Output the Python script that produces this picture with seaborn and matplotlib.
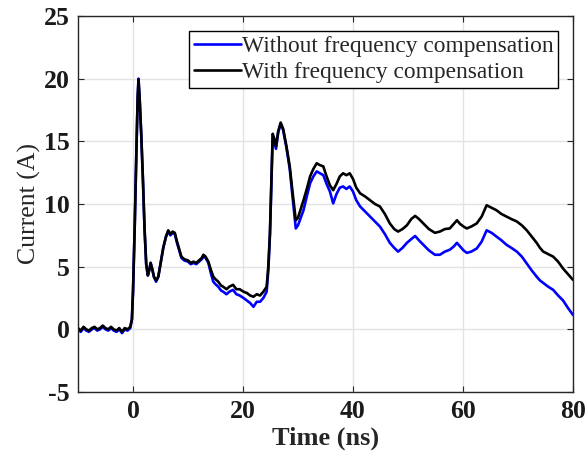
import numpy as np
import pandas as pd
import matplotlib
matplotlib.use("Agg")
import matplotlib.pyplot as plt
import seaborn as sns

time_ns = [-10, -9.5, -9, -8.5, -8, -7.5, -7, -6.5, -6, -5.5, -5, -4.5, -4, -3.5, -3, -2.5, -2, -1.5, -1, -0.5,
           -0.2, 0.0, 0.3, 0.6, 0.85, 1.0, 1.2, 1.5, 1.8, 2.1, 2.4, 2.7, 3.0, 3.2, 3.5, 3.8, 4.2, 4.6, 5.0, 5.5,
           6.0, 6.4, 6.8, 7.2, 7.6, 8.0, 8.4, 8.8, 9.3, 10.0, 10.5, 11.0, 11.5, 12.0, 12.5, 12.8, 13.2, 13.7, 14.2, 14.6,
           15.0, 15.5, 16.0, 16.4, 17.0, 17.5, 18.2, 18.8, 19.4, 20.1, 20.7, 21.3, 21.9, 22.5, 23.1, 23.7, 24.3, 24.6, 24.9, 25.15,
           25.4, 25.7, 26.0, 26.4, 26.85, 27.3, 27.9, 28.5, 29.0, 29.6, 30.0, 30.5, 31.0, 31.6, 32.2, 32.8, 33.4, 34.0, 34.6, 35.2,
           35.8, 36.4, 37.0, 37.6, 38.2, 38.8, 39.4, 40.0, 40.6, 41.3, 42.2, 43.1, 44.0, 44.9, 45.8, 46.7, 47.5, 48.2, 49.0, 49.8,
           50.6, 51.3, 52.0, 52.8, 53.8, 54.9, 55.8, 56.7, 57.6, 58.3, 58.9, 59.5, 60.1, 60.7, 61.5, 62.5, 63.4, 64.3, 65.2, 66.1,
           67.0, 67.9, 68.8, 69.8, 70.7, 71.6, 72.5, 73.4, 74.0, 74.6, 75.5, 76.4, 77.3, 78.2, 79.1, 80.0]

with_comp = [0.1, -0.1, 0.2, 0.0, -0.1, 0.1, 0.2, 0.0, 0.1, 0.3, 0.1, 0.0, 0.2, 0.0, -0.1, 0.1, -0.2, 0.1, 0.0, 0.2,
             0.8, 3.0, 8.0, 14.0, 18.5, 19.9, 18.5, 15.5, 12.0, 8.0, 5.2, 4.3, 4.8, 5.3, 4.8, 4.2, 3.9, 4.2, 5.2, 6.5,
             7.4, 7.9, 7.6, 7.8, 7.7, 7.0, 6.4, 5.8, 5.6, 5.5, 5.3, 5.4, 5.3, 5.5, 5.7, 5.95, 5.8, 5.4, 4.7, 4.2,
             4.0, 3.8, 3.5, 3.4, 3.2, 3.4, 3.55, 3.2, 3.2, 3.0, 2.9, 2.7, 2.6, 2.8, 2.7, 3.0, 3.4, 5.0, 7.7, 11.5,
             15.6, 15.2, 14.6, 15.8, 16.5, 16.0, 14.6, 13.0, 11.0, 8.7, 8.9, 9.6, 10.3, 11.2, 12.2, 12.8, 13.25, 13.1, 13.0, 12.2,
             11.5, 11.1, 11.6, 12.2, 12.45, 12.3, 12.45, 12.0, 11.3, 10.85, 10.6, 10.3, 10.0, 9.8, 9.2, 8.45, 8.0, 7.8, 8.0, 8.3,
             8.8, 9.05, 8.8, 8.45, 8.0, 7.7, 7.8, 8.0, 8.05, 8.4, 8.7, 8.4, 8.2, 8.05, 8.2, 8.45, 9.0, 9.9, 9.7, 9.5,
             9.2, 9.0, 8.8, 8.6, 8.3, 7.9, 7.4, 6.9, 6.5, 6.2, 6.0, 5.8, 5.4, 4.85, 4.4, 3.95]

without_comp = [0.0, -0.2, 0.1, -0.1, -0.2, 0.0, 0.1, -0.1, 0.0, 0.2, 0.0, -0.1, 0.1, -0.1, -0.2, 0.0, -0.3, 0.0, -0.1, 0.1,
                0.8, 3.0, 8.0, 14.0, 18.6, 20.0, 18.5, 15.5, 12.0, 8.0, 5.2, 4.3, 4.8, 5.3, 4.8, 4.2, 3.8, 4.2, 5.2, 6.5,
                7.4, 7.8, 7.5, 7.7, 7.6, 6.9, 6.3, 5.7, 5.5, 5.4, 5.2, 5.3, 5.2, 5.4, 5.6, 5.8, 5.7, 5.3, 4.4, 3.8,
                3.6, 3.4, 3.1, 3.0, 2.8, 3.0, 3.15, 2.8, 2.7, 2.5, 2.3, 2.1, 1.8, 2.2, 2.2, 2.5, 3.0, 4.7, 7.5, 11.3,
                15.4, 14.9, 14.4, 15.7, 16.4, 15.9, 14.5, 12.8, 10.6, 8.05, 8.3, 8.9, 9.5, 10.6, 11.65, 12.2, 12.6, 12.45, 12.3, 11.6,
                11.0, 10.05, 10.8, 11.3, 11.4, 11.2, 11.4, 11.0, 10.3, 9.8, 9.4, 9.0, 8.6, 8.2, 7.6, 6.9, 6.5, 6.2, 6.5, 6.9,
                7.2, 7.45, 7.1, 6.75, 6.3, 5.95, 5.95, 6.2, 6.35, 6.6, 6.9, 6.6, 6.3, 6.1, 6.2, 6.45, 7.0, 7.9, 7.7, 7.4,
                7.1, 6.75, 6.5, 6.2, 5.8, 5.25, 4.7, 4.2, 3.9, 3.7, 3.4, 3.15, 2.7, 2.3, 1.7, 1.15]

series_labels = ["Without frequency compensation", "With frequency compensation"]
x_ticks = [0, 20, 40, 60, 80]
y_ticks = [-5, 0, 5, 10, 15, 20, 25]

sns.set_theme(style="whitegrid")
plt.rcParams['font.family'] = ['Liberation Serif', 'DejaVu Serif']
plt.rcParams['mathtext.fontset'] = 'stix'

fig = plt.figure(figsize=(5.87, 4.62), dpi=100)
ax = fig.add_axes([0.1329, 0.1515, 0.8432, 0.8139])

sns.lineplot(x=time_ns, y=without_comp, ax=ax, color="#0000ff", linewidth=1.9, label=series_labels[0])
sns.lineplot(x=time_ns, y=with_comp, ax=ax, color="black", linewidth=1.9, label=series_labels[1])

ax.set_xlim(-10, 80)
ax.set_ylim(-5, 25)
ax.set_xticks(x_ticks)
ax.set_yticks(y_ticks)
ax.set_xticklabels([str(v) for v in x_ticks], fontweight='bold', fontsize=18.5)
ax.set_yticklabels([str(v) for v in y_ticks], fontweight='bold', fontsize=18.5)
ax.set_xlabel("Time (ns)", fontweight='bold', fontsize=19, labelpad=2)
ax.set_ylabel("Current (A)", fontsize=18.5, labelpad=2)

ax.grid(True, color="#e3e3e3", linewidth=1.0)
ax.set_facecolor("white")
for s in ax.spines.values():
    s.set_visible(True)
    s.set_color("#262626")
    s.set_linewidth(1.0)
ax.tick_params(axis='both', which='both', direction='in', length=4, width=0.8, color="#262626",
               top=True, right=True, bottom=True, left=True, pad=6, labelcolor="#1a1a1a")

leg = ax.legend(loc="upper right", bbox_to_anchor=(0.97, 0.96), fontsize=16.8, frameon=True, fancybox=False,
                edgecolor="black", framealpha=1, handlelength=2.0, handletextpad=0.05, borderpad=0.2,
                labelspacing=0.2, borderaxespad=0)
leg.get_frame().set_linewidth(1.0)

fig.savefig("out.png", dpi=100)
